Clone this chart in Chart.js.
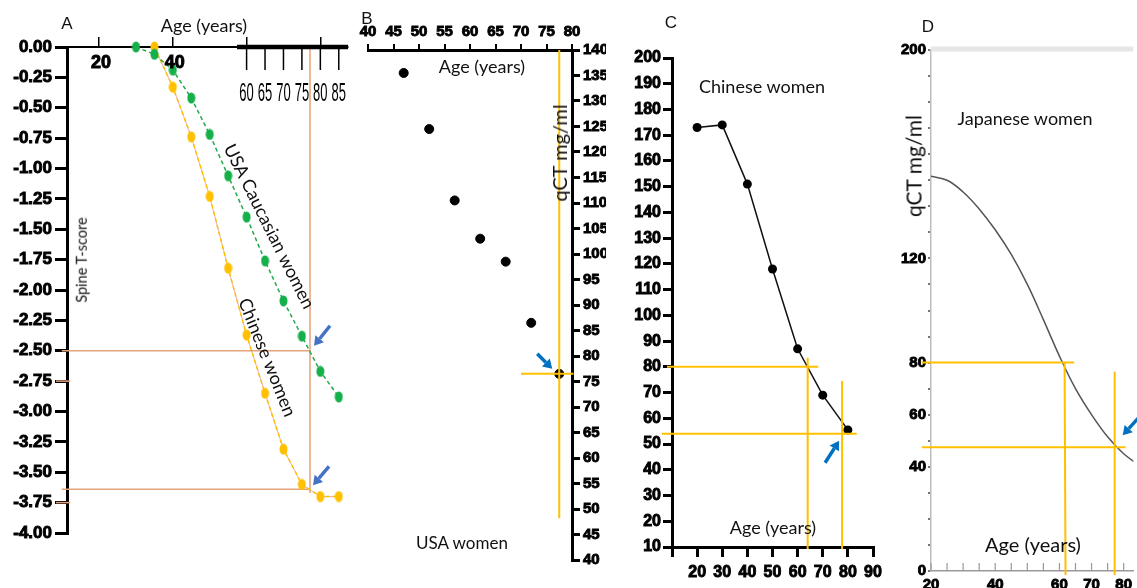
<!DOCTYPE html>
<html>
<head>
<meta charset="utf-8">
<script src="https://cdn.jsdelivr.net/npm/chart.js@4.4.1/dist/chart.umd.min.js"></script>
<style>
  body { margin: 0; background: #fff; width: 1137px; height: 588px; overflow: hidden; position: relative; }
  canvas { position: absolute; top: 0; }
  .t { position: absolute; transform: translate(-50%, -50%); white-space: nowrap; line-height: 1; font-family: Lato, 'Open Sans', sans-serif; color: #111; }
  .l { font-family: 'Liberation Sans', Arial, sans-serif; }
</style>
</head>
<body>
<canvas id="cA" width="360" height="588" style="left:0"></canvas>
<canvas id="cB" width="250" height="588" style="left:356px"></canvas>
<canvas id="cC" width="290" height="588" style="left:600px"></canvas>
<canvas id="cD" width="247" height="588" style="left:890px"></canvas>

<div class="t l" style="left:67px;top:23px;font-size:17px">A</div>
<div class="t" style="left:204px;top:25px;font-size:18px">Age (years)</div>
<div class="t" style="left:82px;top:260px;font-size:14.5px;transform:translate(-50%,-50%) rotate(-90deg)">Spine T-score</div>
<div class="t" style="left:270px;top:226px;font-size:18px;transform:translate(-50%,-50%) rotate(63.5deg)">USA Caucasian women</div>
<div class="t" style="left:268px;top:357px;font-size:18px;transform:translate(-50%,-50%) rotate(68deg)">Chinese women</div>

<div class="t l" style="left:367px;top:18px;font-size:17px">B</div>
<div class="t" style="left:482px;top:66px;font-size:18px">Age (years)</div>
<div class="t" style="left:559px;top:153px;font-size:20px;transform:translate(-50%,-50%) rotate(-90deg)">qCT mg/ml</div>
<div class="t" style="left:462px;top:542px;font-size:17px">USA women</div>

<div class="t l" style="left:671px;top:22px;font-size:17px">C</div>
<div class="t" style="left:762px;top:86px;font-size:18px">Chinese women</div>
<div class="t" style="left:773px;top:527px;font-size:18px">Age (years)</div>

<div class="t l" style="left:928px;top:26px;font-size:17px">D</div>
<div class="t" style="left:1025px;top:118px;font-size:18px">Japanese women</div>
<div class="t" style="left:913px;top:166px;font-size:21px;transform:translate(-50%,-50%) rotate(-90deg)">qCT mg/ml</div>
<div class="t" style="left:1033px;top:544px;font-size:20px">Age (years)</div>

<script>
// --- Panel A: spine T-score vs age
const ageAGreen = [30, 35, 40, 45, 50, 55, 60, 65, 70, 75, 80, 85];
const tAGreen = [0, -0.06, -0.19, -0.42, -0.72, -1.06, -1.40, -1.76, -2.09, -2.38, -2.67, -2.88];
const ageAOrange = [35, 40, 45, 50, 55, 60, 65, 70, 75, 80, 85];
const tAOrange = [0, -0.33, -0.74, -1.23, -1.82, -2.37, -2.85, -3.31, -3.60, -3.70, -3.70];
const aTopTicks = [20, 40, 60, 80];
const aBoldLabels = [20, 40];
const aLowerTicks = [60, 65, 70, 75, 80, 85];
const aRefAge = 77.2;
const aRefT = [-2.5, -3.64];
const aSmallMarks = [-2.75, -3.75];

// --- Panel B: USA women
const ageB = [47, 52, 57, 62, 67, 72, 77.5];
const qctB = [135.5, 124.5, 110.5, 103, 98.5, 86.5, 76.5];

// --- Panel C: Chinese women
const ageC = [20, 30, 40, 50, 60, 70, 80];
const qctC = [173, 174, 151, 118, 87, 69, 55.5];
const cRefQct = [80, 54];
const cRefAge = [64, 77.7];

// --- Panel D: Japanese women
const ageD = [20, 25, 30, 35, 40, 45, 50, 55, 60, 65, 70, 75, 80, 85];
const qctD = [151.5, 150, 145.5, 139, 131, 121.5, 110, 96.5, 82.5, 70, 60, 51.5, 45, 40.5];
const dYLabels = [0, 40, 60, 80, 120, 200];
const dXLabels = [20, 40, 60, 70, 80];
const dRefQct = [80, 47.5];
const dRefAge = [61.6, 77.2];

const FAM = "'Liberation Sans', Arial, sans-serif";
Chart.defaults.font.family = FAM;
Chart.defaults.color = '#000';
Chart.defaults.animation = false;
Chart.defaults.plugins.legend.display = false;
Chart.defaults.plugins.tooltip.enabled = false;

const GOLD = '#FFC000';
const bold = size => ({ family: FAM, size: size, weight: 'bold', style: 'normal' });
const heavy = { textStrokeWidth: 0.9, textStrokeColor: '#000' };
const pts = (xs, ys) => xs.map((x, i) => ({ x: x, y: ys[i] }));

function seg(chart, x1, y1, x2, y2, color, width) {
    const { ctx, scales } = chart;
    ctx.save();
    ctx.strokeStyle = color;
    ctx.lineWidth = width;
    ctx.beginPath();
    ctx.moveTo(scales.x.getPixelForValue(x1), scales.y.getPixelForValue(y1));
    ctx.lineTo(scales.x.getPixelForValue(x2), scales.y.getPixelForValue(y2));
    ctx.stroke();
    ctx.restore();
}

// arrow pointing at a data point, tip/tail given as pixel offsets from it
function arrow(chart, ax, ay, tip, tail, color) {
    const { ctx, scales } = chart;
    const px = scales.x.getPixelForValue(ax), py = scales.y.getPixelForValue(ay);
    const tx = px + tip[0], ty = py + tip[1], sx = px + tail[0], sy = py + tail[1];
    const a = Math.atan2(ty - sy, tx - sx), h = 9, w = 5.5;
    const bx = tx - h * Math.cos(a), by = ty - h * Math.sin(a);
    ctx.save();
    ctx.strokeStyle = color; ctx.fillStyle = color; ctx.lineWidth = 3.5;
    ctx.beginPath(); ctx.moveTo(sx, sy); ctx.lineTo(bx, by); ctx.stroke();
    ctx.beginPath();
    ctx.moveTo(tx, ty);
    ctx.lineTo(bx + w * Math.sin(a), by - w * Math.cos(a));
    ctx.lineTo(bx - w * Math.sin(a), by + w * Math.cos(a));
    ctx.closePath(); ctx.fill();
    ctx.restore();
}

function ellipseDot(color) {
    const c = document.createElement('canvas');
    c.width = 9; c.height = 12;
    const g = c.getContext('2d');
    g.fillStyle = color;
    g.beginPath(); g.ellipse(4.5, 6, 4, 5.5, 0, 0, Math.PI * 2); g.fill();
    return c;
}

// ---------- Panel A ----------
const panelA = {
    id: 'panelA',
    beforeDatasetsDraw(chart) {
        const c = '#E4A27A';
        aRefT.forEach(t => seg(chart, 9.9, t, aRefAge, t, c, 1.5));
        seg(chart, aRefAge, 0, aRefAge, -3.67, c, 1.5);
        aSmallMarks.forEach(t => seg(chart, 8.3, t, 12.2, t, c, 1.5));
    },
    afterDraw(chart) {
        const { ctx, chartArea, scales: { x } } = chart;
        const top = chartArea.top;
        ctx.save();
        ctx.strokeStyle = '#000';
        ctx.lineWidth = 4.5;
        ctx.beginPath(); ctx.moveTo(x.getPixelForValue(57.4), top); ctx.lineTo(chartArea.right, top); ctx.stroke();
        ctx.lineWidth = 1.5;
        aLowerTicks.forEach(v => {
            const px = x.getPixelForValue(v);
            ctx.beginPath(); ctx.moveTo(px, top); ctx.lineTo(px, top + 23); ctx.stroke();
        });
        ctx.fillStyle = '#000';
        ctx.textAlign = 'center'; ctx.textBaseline = 'middle';
        ctx.font = "25px 'Liberation Sans Narrow', 'Liberation Sans', sans-serif";
        aLowerTicks.forEach(v => {
            ctx.save();
            ctx.translate(x.getPixelForValue(v), top + 47);
            ctx.scale(0.52, 1);
            ctx.fillText(String(v), 0, 0);
            ctx.restore();
        });
        ctx.font = "bold 18px " + FAM;
        ctx.lineWidth = 0.9;
        aBoldLabels.forEach(v => {
            ctx.strokeText(String(v), x.getPixelForValue(v) + 2, top + 16);
            ctx.fillText(String(v), x.getPixelForValue(v) + 2, top + 16);
        });
        ctx.restore();
        arrow(chart, aRefAge, aRefT[0], [4, -5], [20, -25], '#4472C4');
        arrow(chart, aRefAge, aRefT[1], [3, -4], [19, -23], '#4472C4');
    }
};

new Chart(document.getElementById('cA'), {
    type: 'line',
    data: {
        datasets: [
            {
                data: pts(ageAGreen, tAGreen),
                borderColor: '#22A94A', borderWidth: 1.5, borderDash: [4, 3],
                pointStyle: ellipseDot('#16B04B'), clip: false
            },
            {
                data: pts(ageAOrange, tAOrange),
                borderColor: GOLD, borderWidth: 1.5, borderDash: [4, 3],
                pointStyle: ellipseDot('#FFC000'), clip: false
            },
            {
                data: pts(ageAOrange, tAOrange),
                borderColor: 'rgba(214,80,60,0.45)', borderWidth: 1,
                pointRadius: 0, clip: false
            }
        ]
    },
    options: {
        responsive: false,
        layout: { padding: { left: 0, top: 0, right: 12, bottom: 55 } },
        scales: {
            x: {
                type: 'linear', position: 'top', min: 11.3, max: 87.5,
                afterBuildTicks: s => { s.ticks = aTopTicks.map(v => ({ value: v })); },
                afterFit: s => { s.height = 47; },
                ticks: { display: false },
                grid: { drawOnChartArea: false, tickLength: 10, color: '#000', lineWidth: 1.5 },
                border: { color: '#000', width: 2 }
            },
            y: {
                type: 'linear', position: 'left', min: -4, max: 0,
                afterFit: s => { s.width = 67; },
                ticks: {
                    stepSize: 0.25, autoSkip: false, padding: 3, ...heavy,
                    font: bold(17),
                    callback: v => v.toFixed(2)
                },
                grid: { drawOnChartArea: false, tickLength: 12, color: '#000', lineWidth: 3 },
                border: { color: '#000', width: 3 }
            }
        }
    },
    plugins: [panelA]
});

// ---------- Panel B ----------
const panelB = {
    id: 'panelB',
    afterDatasetsDraw(chart) {
        const ax = ageB[ageB.length - 1], ay = qctB[qctB.length - 1];
        seg(chart, ax, 140, ax, 48.2, GOLD, 2);
        seg(chart, 70, ay, 80.3, ay, GOLD, 2);
        arrow(chart, ax, ay, [-7, -5], [-22, -20], '#0070C0');
    }
};

new Chart(document.getElementById('cB'), {
    type: 'scatter',
    data: {
        datasets: [{
            data: pts(ageB, qctB),
            backgroundColor: '#000', borderColor: '#000', pointRadius: 4.5
        }]
    },
    options: {
        responsive: false,
        layout: { padding: { left: 12, top: 0, right: 0, bottom: 28 } },
        scales: {
            x: {
                type: 'linear', position: 'top', min: 40, max: 80,
                afterFit: s => { s.height = 50; },
                ticks: { stepSize: 5, autoSkip: false, maxRotation: 0, padding: 3, font: bold(15), ...heavy },
                grid: { drawOnChartArea: false, tickLength: 6, color: '#000', lineWidth: 2 },
                border: { color: '#000', width: 3 }
            },
            y: {
                type: 'linear', position: 'right', min: 40, max: 140,
                afterFit: s => { s.width = 34; },
                ticks: { stepSize: 5, autoSkip: false, padding: 3, font: bold(15), ...heavy },
                grid: { drawOnChartArea: false, tickLength: 8, color: '#000', lineWidth: 3 },
                border: { color: '#000', width: 3 }
            }
        }
    },
    plugins: [panelB]
});

// ---------- Panel C ----------
const panelC = {
    id: 'panelC',
    afterDatasetsDraw(chart) {
        seg(chart, 8, cRefQct[0], 68.2, cRefQct[0], GOLD, 2);
        seg(chart, cRefAge[0], 83.5, cRefAge[0], 9.2, GOLD, 2);
        seg(chart, 6, cRefQct[1], 83.5, cRefQct[1], GOLD, 2);
        seg(chart, cRefAge[1], 74.5, cRefAge[1], 9.2, GOLD, 2);
        arrow(chart, cRefAge[1], cRefQct[1], [-3, 7], [-17, 29], '#0070C0');
    }
};

new Chart(document.getElementById('cC'), {
    type: 'line',
    data: {
        datasets: [{
            data: pts(ageC, qctC),
            borderColor: '#111', borderWidth: 1.5,
            backgroundColor: '#000', pointRadius: 4.5, pointBorderWidth: 0
        }]
    },
    options: {
        responsive: false,
        layout: { padding: { left: 0, top: 58, right: 17, bottom: 0 } },
        scales: {
            x: {
                type: 'linear', position: 'bottom', min: 10, max: 90,
                afterFit: s => { s.height = 41; },
                ticks: {
                    stepSize: 10, autoSkip: false, maxRotation: 0, padding: 6, ...heavy,
                    font: bold(16),
                    callback: v => (v === 10 ? '' : v)
                },
                grid: { drawOnChartArea: false, tickLength: 10, color: '#000', lineWidth: 3 },
                border: { color: '#000', width: 3 }
            },
            y: {
                type: 'linear', position: 'left', min: 10, max: 200,
                afterFit: s => { s.width = 72; },
                ticks: { stepSize: 10, autoSkip: false, padding: 2, font: bold(16), ...heavy },
                grid: { drawOnChartArea: false, tickLength: 9, color: '#000', lineWidth: 3 },
                border: { color: '#000', width: 3 }
            }
        }
    },
    plugins: [panelC]
});

// ---------- Panel D ----------
const panelD = {
    id: 'panelD',
    afterDraw(chart) {
        const { ctx, chartArea, scales: { x } } = chart;
        ctx.save();
        ctx.strokeStyle = '#E6E6E6'; ctx.lineWidth = 5;
        ctx.beginPath(); ctx.moveTo(chartArea.left, chartArea.top - 1); ctx.lineTo(chartArea.right, chartArea.top - 1); ctx.stroke();
        ctx.strokeStyle = '#999'; ctx.lineWidth = 1.2;
        x.ticks.forEach(t => {
            const px = x.getPixelForValue(t.value);
            ctx.beginPath(); ctx.moveTo(px, chartArea.bottom); ctx.lineTo(px, chartArea.bottom - 8); ctx.stroke();
        });
        ctx.restore();
        seg(chart, 17.2, dRefQct[0], 64.6, dRefQct[0], GOLD, 2);
        seg(chart, dRefAge[0], dRefQct[0], dRefAge[0] + 0.3, -1.5, GOLD, 2);
        seg(chart, 17.2, dRefQct[1], 80.6, dRefQct[1], GOLD, 2);
        seg(chart, dRefAge[1], 76.5, dRefAge[1], -1.5, GOLD, 2);
        arrow(chart, dRefAge[1], dRefQct[1], [8, -12], [28, -34], '#0070C0');
    }
};

new Chart(document.getElementById('cD'), {
    type: 'line',
    data: {
        datasets: [{
            data: pts(ageD, qctD),
            borderColor: '#555', borderWidth: 1.5,
            pointRadius: 0, tension: 0.4
        }]
    },
    options: {
        responsive: false,
        layout: { padding: { left: 0, top: 50, right: 0, bottom: 0 } },
        scales: {
            x: {
                type: 'linear', position: 'bottom', min: 20, max: 83,
                afterFit: s => { s.height = 17; },
                ticks: {
                    stepSize: 5, includeBounds: false, autoSkip: false, maxRotation: 0, padding: 5, ...heavy,
                    font: bold(15),
                    callback: v => (dXLabels.includes(v) ? v : '')
                },
                grid: { display: false, drawTicks: false },
                border: { color: '#9A9A9A', width: 1.5 }
            },
            y: {
                type: 'linear', position: 'left', min: 0, max: 200,
                afterFit: s => { s.width = 41; },
                ticks: {
                    stepSize: 10, autoSkip: false, padding: 2, ...heavy,
                    font: bold(15),
                    callback: v => (dYLabels.includes(v) ? v : '')
                },
                grid: { drawOnChartArea: false, tickLength: 3, color: '#777', lineWidth: 2 },
                border: { color: '#BDBDBD', width: 1.5 }
            }
        }
    },
    plugins: [panelD]
});
</script>
</body>
</html>
